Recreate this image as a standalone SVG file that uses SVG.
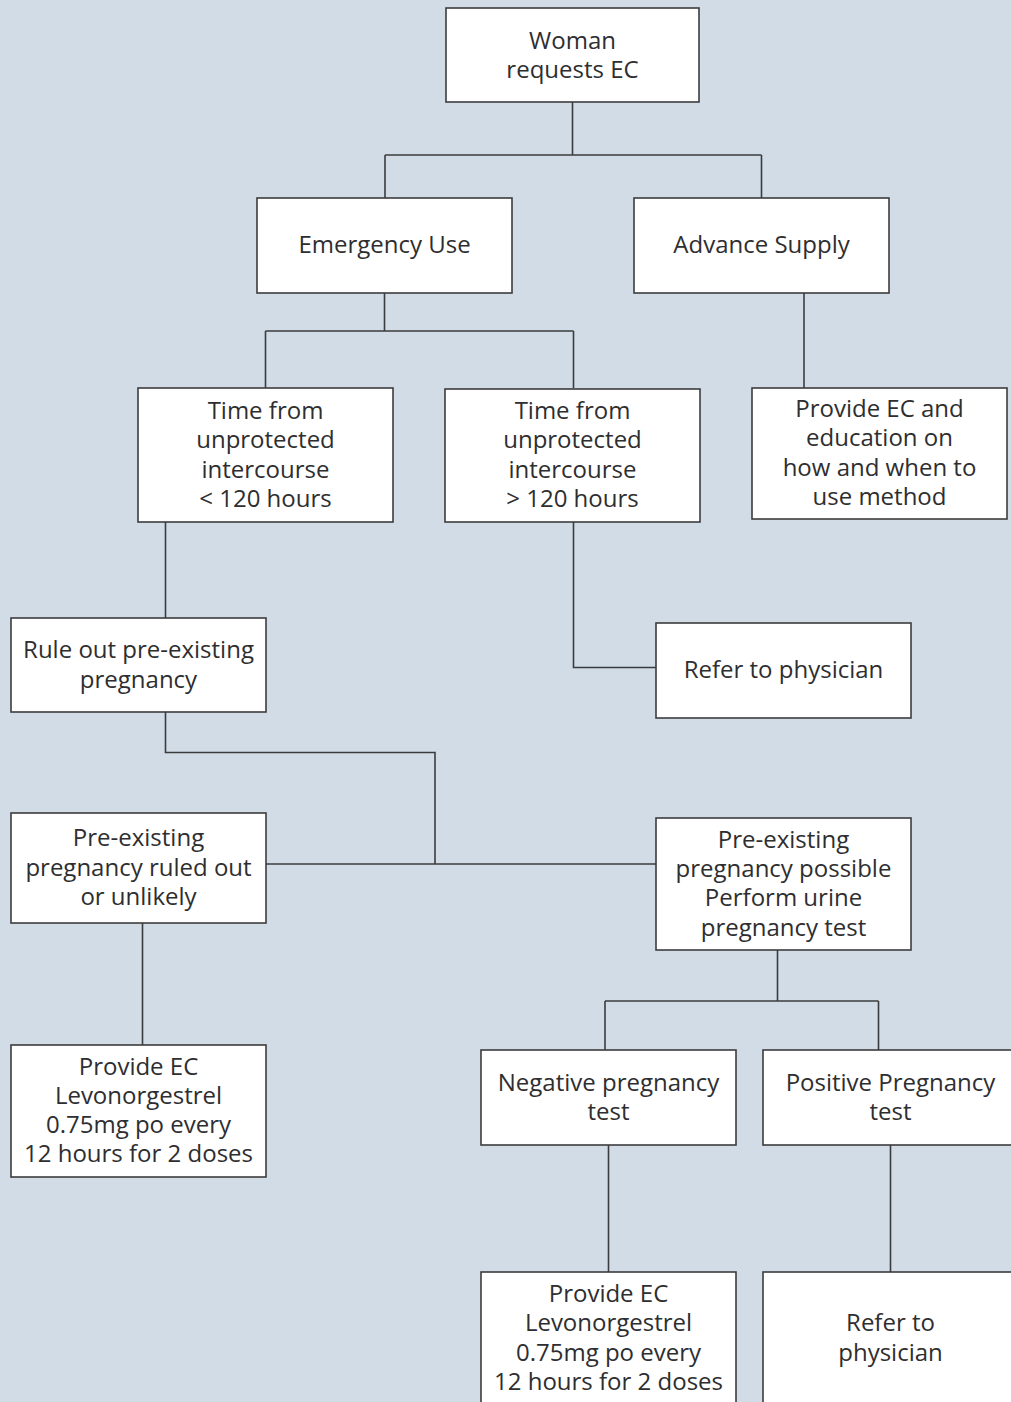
<svg xmlns="http://www.w3.org/2000/svg" width="1011" height="1402" viewBox="0 0 1011 1402">
<style>
.box{fill:#ffffff;stroke:#3c3c3e;stroke-width:1.6}
.t{font-family:"Open Sans","Noto Sans",sans-serif;font-size:24px;fill:#2e2e30;text-anchor:middle}
.c{fill:none;stroke:#3c3c3e;stroke-width:1.6}
</style>
<rect x="0" y="0" width="1011" height="1402" fill="#d1dce6"/>
<g id="connectors">
<path class="c" d="M572.5 102V155M385 155H761.5M385 155V198M761.5 155V198"/>
<path class="c" d="M384.5 293V331M265.5 331H573.5M265.5 331V388M573.5 331V388"/>
<path class="c" d="M804 293V388"/>
<path class="c" d="M165.5 522V618"/>
<path class="c" d="M573.5 522V667.5H656"/>
<path class="c" d="M165.5 712V752.5H435V864"/>
<path class="c" d="M266 864H656"/>
<path class="c" d="M142.5 923V1045"/>
<path class="c" d="M777.5 950V1001M605 1001H878.5M605 1001V1050M878.5 1001V1050"/>
<path class="c" d="M608.5 1145V1272"/>
<path class="c" d="M890.5 1145V1272"/>
</g>
<g id="n-woman"><rect class="box" x="446" y="8" width="253" height="94"/>
<text class="t" x="572.5" y="49">Woman</text><text class="t" x="572.5" y="78">requests EC</text></g>
<g id="n-emergency"><rect class="box" x="257" y="198" width="255" height="95"/>
<text class="t" x="384.5" y="253">Emergency Use</text></g>
<g id="n-advance"><rect class="box" x="634" y="198" width="255" height="95"/>
<text class="t" x="761.5" y="253">Advance Supply</text></g>
<g id="n-lt120"><rect class="box" x="138" y="388" width="255" height="134"/>
<text class="t" x="265.5" y="419">Time from</text><text class="t" x="265.5" y="448">unprotected</text><text class="t" x="265.5" y="478">intercourse</text><text class="t" x="265.5" y="507">&lt; 120 hours</text></g>
<g id="n-gt120"><rect class="box" x="445" y="389" width="255" height="133"/>
<text class="t" x="572.5" y="419">Time from</text><text class="t" x="572.5" y="448">unprotected</text><text class="t" x="572.5" y="478">intercourse</text><text class="t" x="572.5" y="507">&gt; 120 hours</text></g>
<g id="n-provide-adv"><rect class="box" x="752" y="388" width="255" height="131"/>
<text class="t" x="879.5" y="417">Provide EC and</text><text class="t" x="879.5" y="446">education on</text><text class="t" x="879.5" y="476">how and when to</text><text class="t" x="879.5" y="505">use method</text></g>
<g id="n-ruleout"><rect class="box" x="11" y="618" width="255" height="94"/>
<text class="t" x="138.5" y="658">Rule out pre-existing</text><text class="t" x="138.5" y="688">pregnancy</text></g>
<g id="n-refer1"><rect class="box" x="656" y="623" width="255" height="95"/>
<text class="t" x="783.5" y="678">Refer to physician</text></g>
<g id="n-ruledout"><rect class="box" x="11" y="813" width="255" height="110"/>
<text class="t" x="138.5" y="846">Pre-existing</text><text class="t" x="138.5" y="876">pregnancy ruled out</text><text class="t" x="138.5" y="905">or unlikely</text></g>
<g id="n-possible"><rect class="box" x="656" y="818" width="255" height="132"/>
<text class="t" x="783.5" y="848">Pre-existing</text><text class="t" x="783.5" y="877">pregnancy possible</text><text class="t" x="783.5" y="906">Perform urine</text><text class="t" x="783.5" y="936">pregnancy test</text></g>
<g id="n-provide-left"><rect class="box" x="11" y="1045" width="255" height="132"/>
<text class="t" x="138.5" y="1075">Provide EC</text><text class="t" x="138.5" y="1104">Levonorgestrel</text><text class="t" x="138.5" y="1133">0.75mg po every</text><text class="t" x="138.5" y="1162">12 hours for 2 doses</text></g>
<g id="n-negative"><rect class="box" x="481" y="1050" width="255" height="95"/>
<text class="t" x="608.5" y="1091">Negative pregnancy</text><text class="t" x="608.5" y="1120">test</text></g>
<g id="n-positive"><rect class="box" x="763" y="1050" width="260" height="95"/>
<text class="t" x="890.5" y="1091">Positive Pregnancy</text><text class="t" x="890.5" y="1120">test</text></g>
<g id="n-provide-bottom"><rect class="box" x="481" y="1272" width="255" height="140"/>
<text class="t" x="608.5" y="1302">Provide EC</text><text class="t" x="608.5" y="1331">Levonorgestrel</text><text class="t" x="608.5" y="1361">0.75mg po every</text><text class="t" x="608.5" y="1390">12 hours for 2 doses</text></g>
<g id="n-refer2"><rect class="box" x="763" y="1272" width="260" height="140"/>
<text class="t" x="890.5" y="1331">Refer to</text><text class="t" x="890.5" y="1361">physician</text></g>
</svg>
